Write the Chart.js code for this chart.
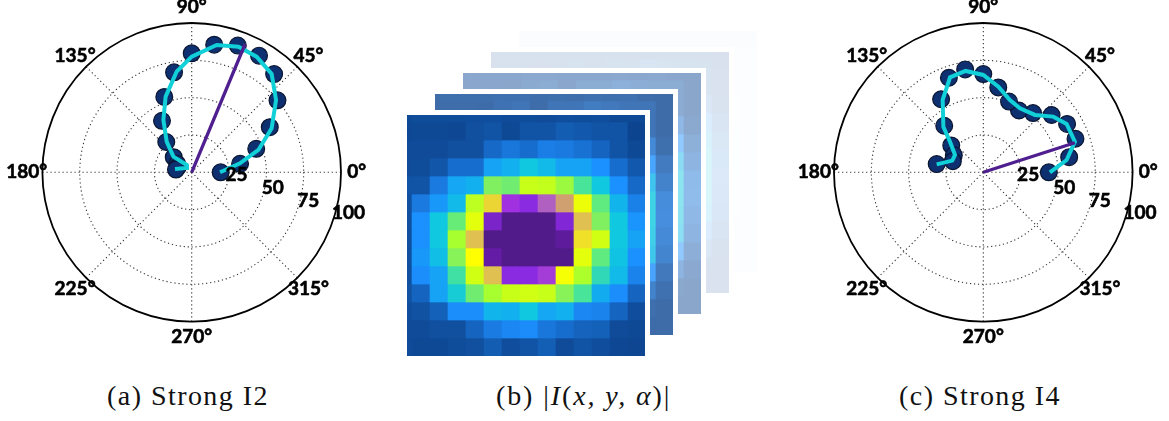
<!DOCTYPE html>
<html>
<head>
<meta charset="utf-8">
<script src="https://cdn.jsdelivr.net/npm/chart.js@4"></script>
<style>
  body { margin:0; background:#fff; width:1169px; height:421px; overflow:hidden; position:relative; }
  canvas { position:absolute; display:block; }
  .layer { position:absolute; background:#fff; }
  .clip { position:absolute; left:0; top:5px; width:238px; height:241px; overflow:hidden; }
  .cap { position:absolute; top:380px; font:28px "Liberation Serif",serif; letter-spacing:1.45px; white-space:nowrap; color:#111; }
</style>
</head>
<body>
<canvas id="polarA" width="384" height="350" style="left:0;top:0"></canvas>
<canvas id="polarC" width="377" height="350" style="left:792px;top:0"></canvas>
<div id="stack"></div>
<div class="cap" style="left:107px">(a) Strong I2</div>
<div class="cap" style="left:496px;letter-spacing:1.9px">(b) |<i>I</i>(<i>x, y, α</i>)|</div>
<div class="cap" style="left:899px">(c) Strong I4</div>

<script>
// polar panels, angle in degrees, radius 0-100
const markerAngles = [0,10,20,30,40,50,60,70,80,90,100,110,120,130,140,150,160,170];
const markerA = [19.4,32.9,46,60.4,75,85.9,90.2,90.3,86.8,79.7,68,53.7,39.8,26.5,15.7,11.2,10,10.7];
const markerC = [43.9,58.4,65.7,64.8,59.7,51.8,47.8,50.4,57.7,65.8,70,67.4,56.5,40.7,28,22.8,21.7,31.7];

const fitAnglesA = [0,10.5,18.5,28.8,40.6,50.9,60.7,69.6,78.9,90,98.5,109,118.4,129.2,139.5,124,137.6,169];
const fitA = [19,32.9,47.1,61.1,74.4,84.9,88.8,89.8,86.9,77.5,68.2,53.6,39.9,26.5,16.1,5.9,4.3,11.4];
const fitAnglesC = [0,8.4,18.5,30.1,38.5,48,60.2,69.8,80,90,99.9,109.3,119.3,131.2,137.4,148.5,159.4,170.3];
const fitC = [44.6,56.4,64.7,64.5,59.9,51.7,49.4,51.6,58.2,65.2,68.9,67.4,55.6,40.6,30.3,22.2,22.2,31.7];

const meanA = [67.4, 92.9];  // angle, radius
const meanC = [17.9, 64.5];

const ringValues = [25,50,75];
const spokeAngles = [0,45,90,135,180,225,270,315];
const radialLabels = ['25','50','75','100'];

// heat values of the front image, rows top to bottom, first row and column cut by the frame
const heat = [
  [6,8,8,8,9,9,7,8,7,9,8,9,6,6],
  [5,6,6,5,10,12,6,12,12,16,14,12,12,3],
  [7,7,7,10,10,22,28,24,32,30,26,20,12,6],
  [7,8,13,24,24,44,47,52,49,44,44,40,24,14],
  [12,12,30,45,47,66,64,78,77,70,59,52,40,22],
  [10,30,42,49,76,86,94,96,92,90,82,62,48,33],
  [10,40,52,63,81,97,100,100,100,96.5,87,66,52,41],
  [10,40,52,72,87,100,100,100,100,99,85.5,79,52,44],
  [10,42,50,67,84,98.5,100,100,100,100,81,62,51,40],
  [10,39,44,58,79,87,96,96,93.5,83,73,56,49,34],
  [11,20,44,53,64,72,78,79,78,67,59,46,39,20],
  [9,11,18,39,39,48,47,52,45,47,36,34,20,9],
  [7,7,10,10,20,31,36,38,28,24,19,18,7,6],
  [7,6,6,8,10,16,9,12,17,7,12,9,5,4]
];
// last column of the sheets behind the front one
const backEdge = [5,5,5,8,15,20,26,27,24,21,14,9,5,5];
const heatStops = [0,10,20,30,40,47,52,60,66,72,78,84,87,90,92,94,96,98,100];
const heatColors = ['#0c3f88','#10509f','#1565c0','#1a7ae0','#1b90ff','#12b0ee','#10c8e0','#50e890','#80f060','#a8ff30','#c8ff18','#ffff00','#e0c050','#d0a070','#b060c0','#a030e0','#8a2be2','#6a1cb0','#521b8a'];
const layerOpacity = [0.012, 0.16, 0.485, 0.8, 1]; // back to front

const toRad = Math.PI/180;
function polarPoints(angles, radii) {
  return radii.map((r,i) => ({ x:r*Math.cos(angles[i]*toRad), y:r*Math.sin(angles[i]*toRad) }));
}

// rings, spokes and angle labels go through the x/y scales of the chart
const polarFrame = {
  id:'polarFrame',
  beforeDatasetsDraw(chart) {
    let x = chart.scales.x, y = chart.scales.y, c = chart.ctx;
    let x0 = x.getPixelForValue(0), y0 = y.getPixelForValue(0);
    let unit = x.getPixelForValue(100)-x0;
    c.save();
    c.strokeStyle = '#333';
    c.lineWidth = 1.1;
    c.setLineDash([1.2,2.8]);
    ringValues.forEach(r => {
      c.beginPath();
      c.arc(x0, y0, unit*r/100, 0, Math.PI*2);
      c.stroke();
    });
    spokeAngles.forEach(a => {
      c.beginPath();
      c.moveTo(x0, y0);
      c.lineTo(x.getPixelForValue(100*Math.cos(a*toRad)), y.getPixelForValue(100*Math.sin(a*toRad)));
      c.stroke();
    });
    c.setLineDash([]);
    c.strokeStyle = '#000';
    c.lineWidth = 1.8;
    c.beginPath();
    c.arc(x0, y0, unit, 0, Math.PI*2);
    c.stroke();
    c.restore();
  },
  afterDraw(chart) {
    let x = chart.scales.x, y = chart.scales.y, c = chart.ctx;
    c.save();
    c.fillStyle = '#000';
    c.strokeStyle = '#000';
    c.lineWidth = 0.6;
    c.font = '700 19px Lato';
    c.textAlign = 'center';
    c.textBaseline = 'middle';
    let put = (t,px,py) => { c.fillText(t,px,py); c.strokeText(t,px,py); };
    spokeAngles.forEach(a => {
      put(a+'°', x.getPixelForValue(110.5*Math.cos(a*toRad)), y.getPixelForValue(110.5*Math.sin(a*toRad)));
    });
    // radial tick labels sit under the 0 degree spoke
    let rr = [30.1,55.3,80.4,108.5], aa = [-3.8,-11,-14,-14.6];
    radialLabels.forEach((t,i) => {
      put(t, x.getPixelForValue(rr[i]*Math.cos(aa[i]*toRad)), y.getPixelForValue(rr[i]*Math.sin(aa[i]*toRad)));
    });
    c.restore();
  }
};

function drawPolar(id, markers, fitAngles, fit, mean, cx) {
  let cv = document.getElementById(id);
  let rad = 149.3;
  new Chart(cv, {
    type:'scatter',
    data:{
      datasets:[
        { data:polarPoints([0,mean[0]],[0,mean[1]]), showLine:true, borderColor:'#4f1f8f', borderWidth:3.3, pointRadius:0, order:1, clip:false },
        { data:polarPoints(fitAngles,fit), showLine:true, borderColor:'#12d0d8', borderWidth:4, pointRadius:0, tension:0, order:2, clip:false },
        { data:polarPoints(markerAngles,markers), showLine:false, backgroundColor:'#0e3070', borderColor:'#0a1530', borderWidth:1.2, pointRadius:8.4, order:3, clip:false }
      ]
    },
    options:{
      responsive:false,
      animation:false,
      layout:{ padding:{ left:cx-rad, right:cv.width-cx-rad, top:172.3-rad, bottom:cv.height-172.3-rad } },
      plugins:{ legend:{display:false}, tooltip:{enabled:false} },
      scales:{
        x:{ type:'linear', min:-100, max:100, display:false },
        y:{ type:'linear', min:-100, max:100, display:false }
      }
    },
    plugins:[polarFrame]
  });
}

drawPolar('polarA', markerA, fitAnglesA, fitA, meanA, 191.7);
drawPolar('polarC', markerC, fitAnglesC, fitC, meanC, 191.3);

function heatColor(v) {
  let k = 1;
  while (k<heatStops.length-1 && heatStops[k]<v) k++;
  let t = (v-heatStops[k-1])/(heatStops[k]-heatStops[k-1]);
  let ch = s => [1,3,5].map(i => parseInt(s.substr(i,2),16));
  let ca = ch(heatColors[k-1]), cb = ch(heatColors[k]);
  return 'rgb('+ca.map((n,i) => Math.round(n+(cb[i]-n)*t)).join(',')+')';
}

// image stack, each sheet a stacked bar chart with one dataset per row
const colNames = heat[0].map((_,i) => String(i));
const stack = document.getElementById('stack');
layerOpacity.forEach((op,i) => {
  let back = layerOpacity.length-1-i;
  let wrap = document.createElement('div');
  wrap.className = 'layer';
  wrap.style.cssText = `left:${407+28*back}px;top:${110-21*back}px;width:243px;height:246px`;
  let clip = document.createElement('div');
  clip.className = 'clip';
  let cv = document.createElement('canvas');
  cv.width = 252;
  cv.height = 252;
  cv.style.cssText = `left:-13px;top:-11px;opacity:${op}`;
  clip.appendChild(cv);
  wrap.appendChild(clip);
  stack.appendChild(wrap);
  new Chart(cv, {
    type:'bar',
    data:{
      labels:colNames,
      datasets:heat.map((row,r) => ({
        data:row.map(() => 1),
        backgroundColor:row.map((v,c) => heatColor(back>0 && c==row.length-1 ? backEdge[r] : v)),
        borderWidth:0,
        barPercentage:1,
        categoryPercentage:1
      }))
    },
    options:{
      responsive:false,
      animation:false,
      layout:{ padding:0 },
      plugins:{ legend:{display:false}, tooltip:{enabled:false} },
      scales:{
        x:{ stacked:true, display:false },
        y:{ stacked:true, display:false, reverse:true, min:0, max:heat.length }
      }
    }
  });
});
</script>
</body>
</html>
